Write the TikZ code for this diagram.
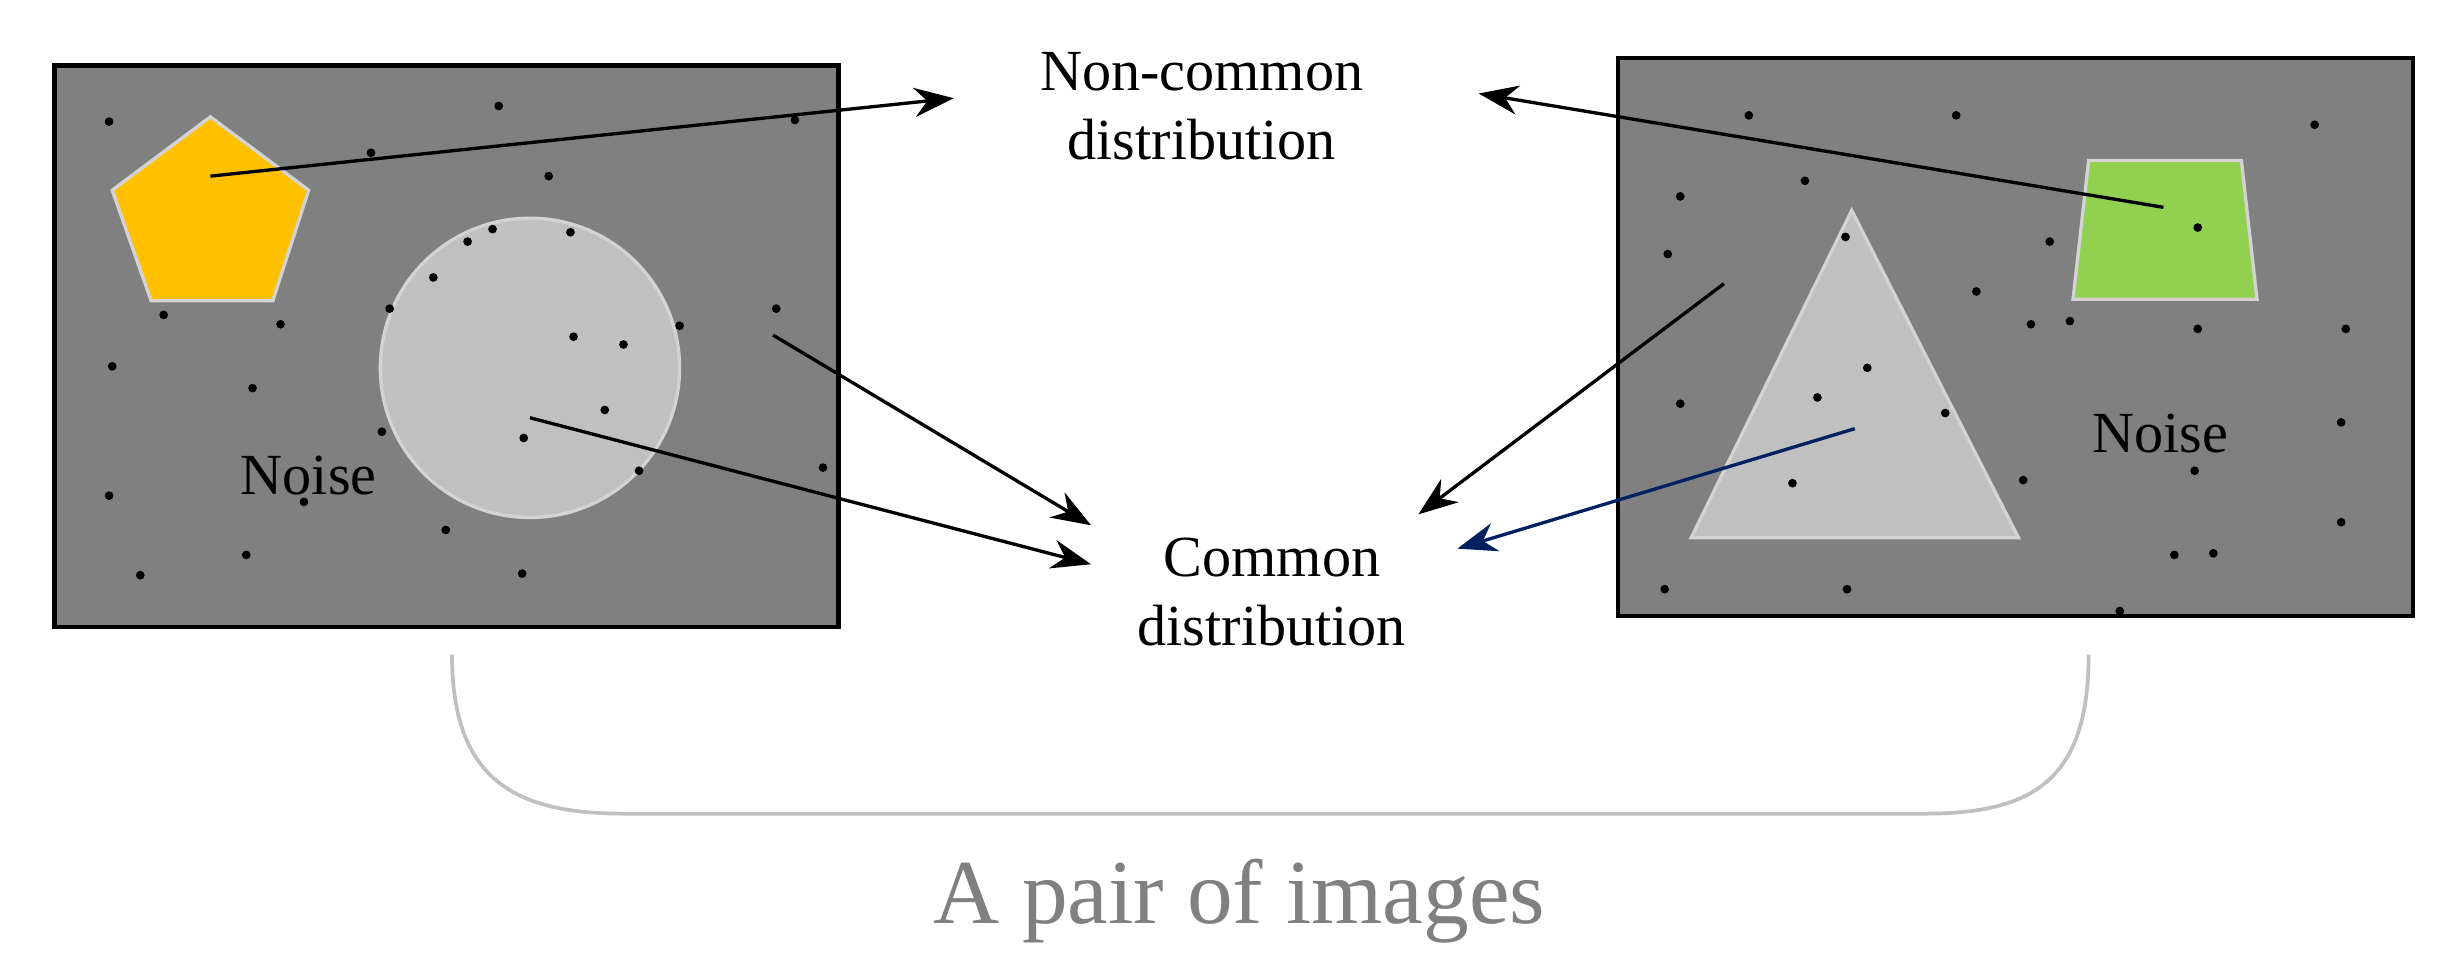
\documentclass[tikz,border=0pt]{standalone}
\usepackage{fontspec}
\setmainfont{Liberation Serif}
\usetikzlibrary{arrows.meta}
\definecolor{imggray}{RGB}{128,128,128}
\definecolor{shapegray}{RGB}{192,192,192}
\definecolor{pentorange}{RGB}{255,192,0}
\definecolor{trapgreen}{RGB}{146,208,80}
\definecolor{navyarrow}{RGB}{0,32,96}
\tikzset{
  img/.style={draw=black,line width=2pt,fill=imggray},
  obj/.style={draw=shapegray!70!white,line width=1.6pt},
  lbl/.style={font=\fontsize{28}{33}\selectfont,align=center},
  dist/.style={line width=1.6pt,-{Stealth[length=19pt,width=14pt]}},
}
\begin{document}
\begin{tikzpicture}[x=0.75pt,y=0.75pt,yscale=-1,xscale=1]
\useasboundingbox (0,0) rectangle (1568,626);

%Images
\draw [img] (35,42) rectangle (538,402);
\draw [img] (1038,37) rectangle (1548,395);

%Objects
\draw [obj,fill=pentorange] (135,75) -- (198,122) -- (175,193) -- (97,193) -- (72,122) -- cycle;
\draw [obj,fill=shapegray] (340,236) circle (96);
\draw [obj,fill=trapgreen] (1340,103) -- (1438,103) -- (1448,192) -- (1330,192) -- cycle;
\draw [obj,fill=shapegray] (1188,135) -- (1295,345) -- (1085,345) -- cycle;

%Noise dots
\foreach \p in {(70,78),(320,68),(238,98),(510,77),(352,113),(105,202),(180,208),(72,235),(162,249),(250,198),(278,178),(300,155),(316,147),(366,149),(368,216),(400,221),(436,209),(498,198),(388,263),(245,277),(336,281),(410,302),(528,300),(70,318),(195,322),(286,340),(158,356),(90,369),(335,368),
  (1122,74),(1255,74),(1485,80),(1078,126),(1158,116),(1184,152),(1070,163),(1315,155),(1268,187),(1303,208),(1328,206),(1410,211),(1505,211),(1078,259),(1198,236),(1166,255),(1248,265),(1150,310),(1298,308),(1408,302),(1502,271),(1502,335),(1395,356),(1420,355),(1068,378),(1185,378),(1360,392),(1410,146)}
  \fill \p circle (2.8);

%Texts
\node [lbl] (noncommon) at (771,68) {Non-common\\distribution};
\node [lbl] (common) at (816,380) {Common\\distribution};
\node [lbl] (noiseL) at (198,305) {Noise};
\node [lbl] (noiseR) at (1386,278) {Noise};
\node [font=\fontsize{44}{50}\selectfont,text=imggray] (pair) at (795,578) {A pair of images};

%Arrows
\coordinate (pent) at (135,113);
\coordinate (trap) at (1388,133);
\coordinate (bgL) at (496,215);
\coordinate (circ) at (340,268);
\coordinate (bgR) at (1106,182);
\coordinate (tri) at (1190,275);
\draw [dist] (pent) -- ([xshift=-38pt]noncommon.west|-0,63);
\draw [dist] (trap) -- ([xshift=52pt]noncommon.east|-0,60);
\draw [dist] (bgL) -- (700,337);
\draw [dist] (circ) -- (700,362);
\draw [dist] (bgR) -- (910,330);
\draw [dist,navyarrow] (tri) -- (935,352);

%Brace
\draw [shapegray,line width=1.8pt] (290,420) .. controls (290,500) and (330,522) .. (400,522) -- (1235,522) .. controls (1305,522) and (1340,500) .. (1340,420);
\end{tikzpicture}
\end{document}
